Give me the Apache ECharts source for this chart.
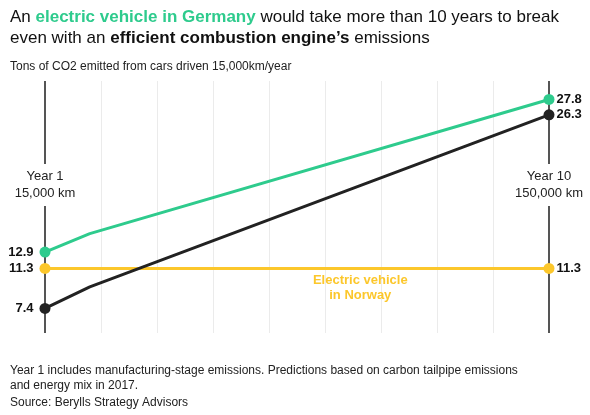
<!DOCTYPE html>
<html><head><meta charset="utf-8">
<script src="https://cdn.jsdelivr.net/npm/echarts@6/dist/echarts.min.js"></script>
<style>html,body{margin:0;padding:0;background:#fff}#c{width:590px;height:415px}</style>
</head><body><div id="c"></div>
<script>
// ---- data ----
const evGermanyYears = [1, 1.8, 10];
const evGermanyTons = [12.9, 14.7, 27.8];
const combustionYears = [1, 1.8, 10];
const combustionTons = [7.4, 9.5, 26.3];
const evNorwayYears = [1, 10];
const evNorwayTons = [11.3, 11.3];
const markerLabels = ['Year 1\n15,000 km', 'Year 10\n150,000 km'];
const markerYears = [1, 10];
const gridYears = [1, 2, 3, 4, 5, 6, 7, 8, 9, 10];

// ---- style ----
const FONT = 'Liberation Sans';
const GREEN = '#2ecb8d';
const BLACK = '#222222';
const YELLOW = '#fcc72b';

function buildData(xs, ys) {
  const n = xs.length;
  return xs.map((x, i) => {
    const first = i === 0, last = i === n - 1;
    const item = { value: [x, ys[i]] };
    if (!first && !last) {
      item.symbol = 'none';
    } else {
      item.label = {
        show: true,
        position: first ? 'left' : 'right',
        distance: first ? 6 : 2,
        formatter: p => p.value[1].toFixed(1),
        fontFamily: FONT, fontWeight: 'bold', fontSize: 13, color: '#111'
      };
    }
    return item;
  });
}

function lineSeries(name, xs, ys, color, z) {
  return {
    name, type: 'line', z,
    data: buildData(xs, ys),
    symbol: 'circle', symbolSize: 11, showSymbol: true,
    lineStyle: { color, width: 3 },
    itemStyle: { color },
    emphasis: { disabled: true },
    animation: false
  };
}

const chart = echarts.init(document.getElementById('c'), null, { renderer: 'canvas' });
chart.setOption({
  animation: false,
  title: [
    {
      left: 5, top: 2,
      text: 'An {g|electric vehicle in Germany} would take more than 10 years to break\neven with an {b|efficient combustion engine\u2019s} emissions',
      textStyle: {
        fontFamily: FONT, fontSize: 17, fontWeight: 'normal', color: '#111', lineHeight: 21,
        rich: {
          g: { fontFamily: FONT, fontSize: 17, fontWeight: 'bold', color: GREEN, lineHeight: 21 },
          b: { fontFamily: FONT, fontSize: 17, fontWeight: 'bold', color: '#111', lineHeight: 21 }
        }
      }
    },
    {
      left: 5, top: 56,
      text: 'Tons of CO2 emitted from cars driven 15,000km/year',
      textStyle: { fontFamily: FONT, fontSize: 12, fontWeight: 'normal', color: '#222' }
    },
    {
      left: 5, top: 358,
      text: 'Year 1 includes manufacturing-stage emissions. Predictions based on carbon tailpipe emissions\nand energy mix in 2017.',
      textStyle: { fontFamily: FONT, fontSize: 12, fontWeight: 'normal', color: '#222', lineHeight: 15 }
    },
    {
      left: 5, top: 392,
      text: 'Source: Berylls Strategy Advisors',
      textStyle: { fontFamily: FONT, fontSize: 12, fontWeight: 'normal', color: '#222' }
    }
  ],
  grid: { left: 45, right: 41, top: 81, bottom: 82 },
  xAxis: {
    type: 'value', min: gridYears[0], max: gridYears[gridYears.length - 1], interval: 1,
    axisLine: { show: false }, axisTick: { show: false }, axisLabel: { show: false },
    splitLine: { show: true, lineStyle: { color: '#ebebeb', width: 1 } }
  },
  yAxis: {
    type: 'value', min: 5, max: 29.6,
    axisLine: { show: false }, axisTick: { show: false }, axisLabel: { show: false },
    splitLine: { show: false }
  },
  series: [
    {
      type: 'line', data: [], z: 1,
      markLine: {
        silent: true, symbol: 'none', animation: false, z: 1,
        label: { show: false },
        lineStyle: { color: '#555', width: 2, type: 'solid' },
        data: markerYears.map(x => ({ xAxis: x }))
      }
    },
    lineSeries('EV Norway', evNorwayYears, evNorwayTons, YELLOW, 3),
    lineSeries('Combustion', combustionYears, combustionTons, BLACK, 4),
    lineSeries('EV Germany', evGermanyYears, evGermanyTons, GREEN, 5)
  ]
});

// labels positioned through the chart's own scales
const NORWAY_LABEL_AT = 6.63;
const MARKER_LABEL_Y = 185;
const graphics = markerYears.map((yr, i) => {
  const px = chart.convertToPixel({ xAxisIndex: 0 }, yr);
  return {
    type: 'text', z: 100,
    x: px, y: MARKER_LABEL_Y,
    style: {
      text: markerLabels[i],
      fontFamily: FONT, fontSize: 13, fill: '#222',
      align: 'center', verticalAlign: 'middle', lineHeight: 17,
      backgroundColor: '#fff', padding: [4, 2]
    }
  };
});
const np = chart.convertToPixel({ gridIndex: 0 }, [NORWAY_LABEL_AT, evNorwayTons[0]]);
graphics.push({
  type: 'text', z: 100,
  x: np[0], y: np[1] + 4,
  style: {
    text: 'Electric vehicle\nin Norway',
    fontFamily: FONT, fontSize: 13, fontWeight: 'bold', fill: YELLOW,
    align: 'center', verticalAlign: 'top', lineHeight: 15
  }
});
chart.setOption({ graphic: graphics });
</script>
</body></html>
